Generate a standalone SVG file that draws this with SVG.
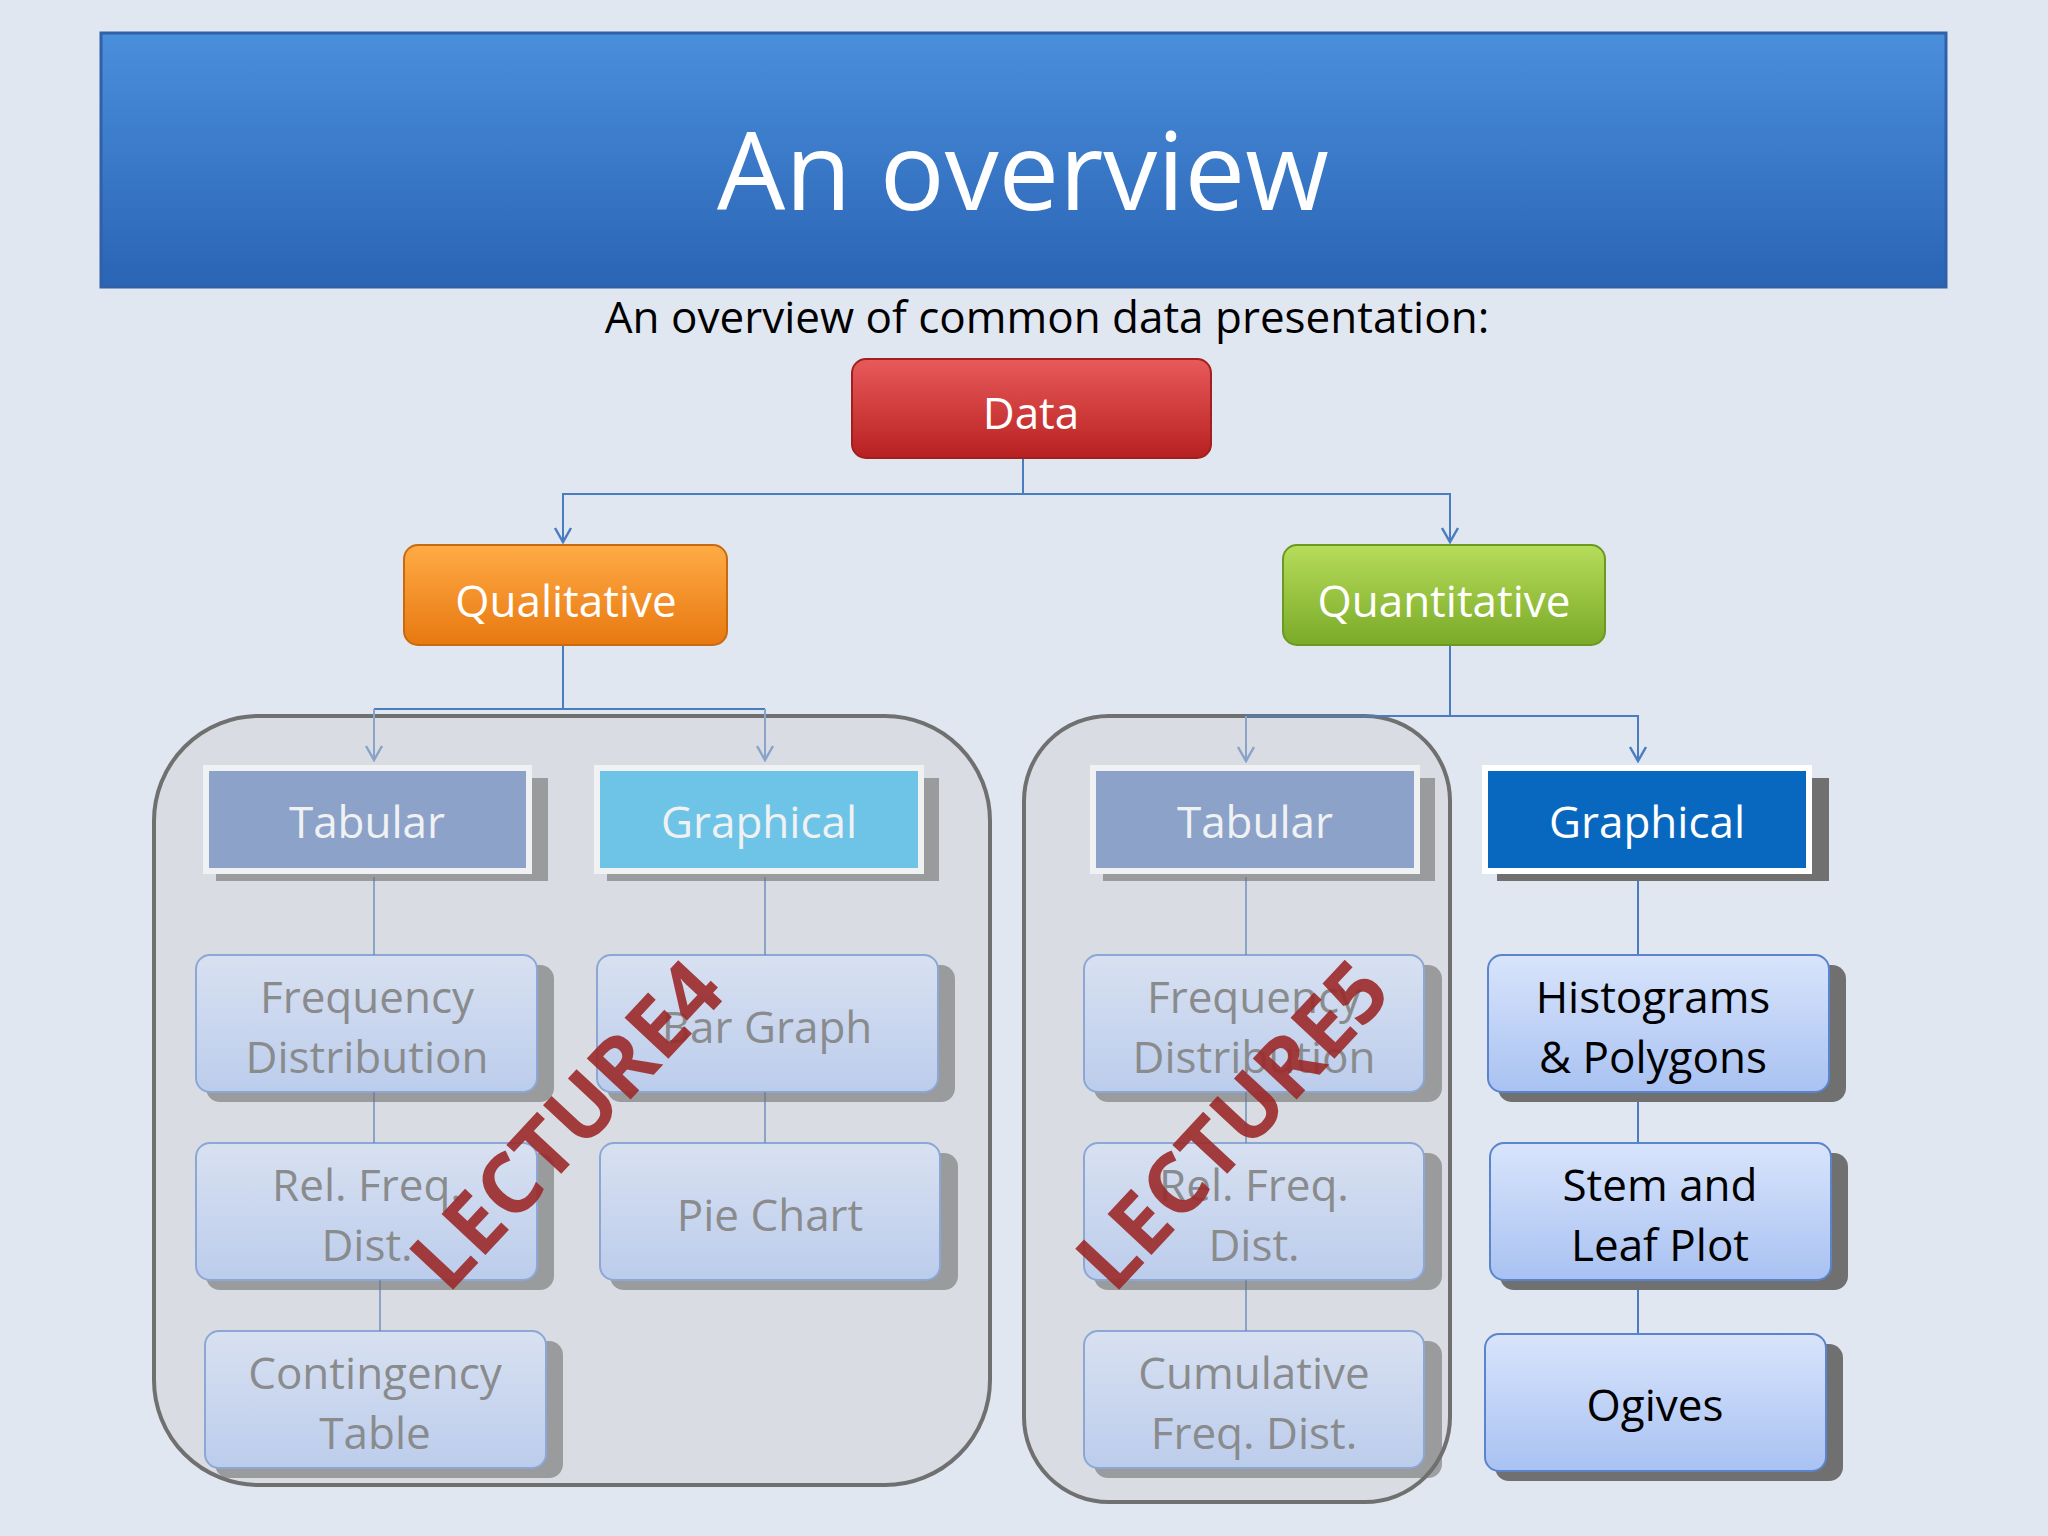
<svg xmlns="http://www.w3.org/2000/svg" width="2048" height="1536" viewBox="0 0 2048 1536">
<defs>
<linearGradient id="gT" x1="0" y1="0" x2="0" y2="1"><stop offset="0" stop-color="#4a8fdc"/><stop offset="1" stop-color="#2a64b4"/></linearGradient>
<linearGradient id="gR" x1="0" y1="0" x2="0" y2="1"><stop offset="0" stop-color="#e85a5a"/><stop offset="1" stop-color="#b82020"/></linearGradient>
<linearGradient id="gO" x1="0" y1="0" x2="0" y2="1"><stop offset="0" stop-color="#ffab45"/><stop offset="1" stop-color="#e87810"/></linearGradient>
<linearGradient id="gG" x1="0" y1="0" x2="0" y2="1"><stop offset="0" stop-color="#b6dc5a"/><stop offset="1" stop-color="#7aaa28"/></linearGradient>
<linearGradient id="gL" x1="0" y1="0" x2="0" y2="1"><stop offset="0" stop-color="#d8e4fb"/><stop offset="1" stop-color="#a9c2f2"/></linearGradient>
<marker id="ar" viewBox="0 0 20 20" refX="18" refY="10" markerWidth="20" markerHeight="20" markerUnits="userSpaceOnUse" orient="auto"><path d="M4,2 L18,10 L4,18" fill="none" stroke="#4a7cc0" stroke-width="2.5"/></marker>
<marker id="arf" viewBox="0 0 20 20" refX="18" refY="10" markerWidth="20" markerHeight="20" markerUnits="userSpaceOnUse" orient="auto"><path d="M4,2 L18,10 L4,18" fill="none" stroke="#8aa4c8" stroke-width="2.5"/></marker>
<style>
.t{font-family:"Open Sans","Noto Sans",sans-serif;text-anchor:middle}
.w{fill:#fff;font-size:44px}
.k{fill:#000;font-size:44px}
.g{fill:#555;font-size:44px}
.ln{stroke:#4a7cc0;stroke-width:2;fill:none}
.lnf{stroke:#8aa4c8;stroke-width:2;fill:none}
.sh{fill:#707070}
.lb{fill:url(#gL);stroke:#5a84cc;stroke-width:2}
.lec{font-family:"Open Sans","Noto Sans",sans-serif;font-weight:bold;font-size:84px;fill:#9c2a2a;opacity:0.9;text-anchor:middle}
</style>
</defs>
<rect width="2048" height="1536" fill="#e1e7f1"/>
<g id="title"><rect x="101" y="33" width="1845" height="254" fill="url(#gT)" stroke="#3060a8" stroke-width="3"/><text x="1023" y="210" class="t" fill="#fff" font-size="108">An overview</text></g>
<text x="1047" y="333" class="t k" font-size="44">An overview of common data presentation:</text>
<g id="panels">
<rect x="154" y="716" width="836" height="769" rx="105" fill="#d9dde3" stroke="#707070" stroke-width="4"/>
<rect x="1024" y="716" width="426" height="786" rx="85" fill="#d9dde3" stroke="#707070" stroke-width="4"/>
</g>
<g id="connectors">
<path class="ln" d="M1023,458 V494 H563 V542" marker-end="url(#ar)"/>
<path class="ln" d="M1023,494 H1450 V542" marker-end="url(#ar)"/>
<path class="ln" d="M563,645 V709 H374"/>
<path class="lnf" d="M374,709 V760" marker-end="url(#arf)"/>
<path class="ln" d="M563,709 H765"/>
<path class="lnf" d="M765,709 V760" marker-end="url(#arf)"/>
<path class="ln" d="M1450,645 V716 H1638 V761" marker-end="url(#ar)"/>
<path class="ln" d="M1450,716 H1246"/>
<path class="lnf" d="M1246,716 V761" marker-end="url(#arf)"/>
<path class="lnf" d="M374,877 V955 M374,1092 V1143 M380,1280 V1331 M765,877 V955 M765,1092 V1143 M1246,877 V955 M1246,1092 V1143 M1246,1280 V1331"/>
<path class="ln" d="M1638,871 V1334"/>
</g>
<g id="data"><rect x="852" y="359" width="359" height="99" rx="14" fill="url(#gR)" stroke="#a02020" stroke-width="2"/><text x="1031" y="429" class="t w">Data</text></g>
<g id="qual"><rect x="404" y="545" width="323" height="100" rx="14" fill="url(#gO)" stroke="#c86a10" stroke-width="2"/><text x="566" y="617" class="t w">Qualitative</text></g>
<g id="quant"><rect x="1283" y="545" width="322" height="100" rx="14" fill="url(#gG)" stroke="#6a9a20" stroke-width="2"/><text x="1444" y="617" class="t w">Quantitative</text></g>
<g id="left" opacity="0.6">
<g id="tabL"><rect x="216" y="778" width="332" height="103" class="sh"/><rect x="206" y="768" width="323" height="103" fill="#5a7cb8" stroke="#fff" stroke-width="6"/><text x="367" y="838" class="t w">Tabular</text></g>
<g id="graL"><rect x="607" y="778" width="332" height="103" class="sh"/><rect x="597" y="768" width="324" height="103" fill="#28b4e8" stroke="#fff" stroke-width="6"/><text x="759" y="838" class="t w">Graphical</text></g>
<g id="fdL"><rect x="206" y="965" width="348" height="137" rx="14" class="sh"/><rect x="196" y="955" width="341" height="137" rx="14" class="lb"/><text x="367" y="1013" class="t g">Frequency</text><text x="367" y="1073" class="t g">Distribution</text></g>
<g id="rfL"><rect x="206" y="1153" width="348" height="137" rx="14" class="sh"/><rect x="196" y="1143" width="341" height="137" rx="14" class="lb"/><text x="367" y="1201" class="t g">Rel. Freq.</text><text x="367" y="1261" class="t g">Dist.</text></g>
<g id="ctL"><rect x="215" y="1341" width="348" height="137" rx="14" class="sh"/><rect x="205" y="1331" width="341" height="137" rx="14" class="lb"/><text x="375" y="1389" class="t g">Contingency</text><text x="375" y="1449" class="t g">Table</text></g>
<g id="bgL"><rect x="607" y="965" width="348" height="137" rx="14" class="sh"/><rect x="597" y="955" width="341" height="137" rx="14" class="lb"/><text x="767" y="1043" class="t g">Bar Graph</text></g>
<g id="pcL"><rect x="610" y="1153" width="348" height="137" rx="14" class="sh"/><rect x="600" y="1143" width="340" height="137" rx="14" class="lb"/><text x="770" y="1231" class="t g">Pie Chart</text></g>
</g>
<g id="rightT" opacity="0.6">
<g id="tabR"><rect x="1103" y="778" width="332" height="103" class="sh"/><rect x="1093" y="768" width="324" height="103" fill="#5a7cb8" stroke="#fff" stroke-width="6"/><text x="1255" y="838" class="t w">Tabular</text></g>
<g id="fdR"><rect x="1094" y="965" width="348" height="137" rx="14" class="sh"/><rect x="1084" y="955" width="340" height="137" rx="14" class="lb"/><text x="1254" y="1013" class="t g">Frequency</text><text x="1254" y="1073" class="t g">Distribution</text></g>
<g id="rfR"><rect x="1094" y="1153" width="348" height="137" rx="14" class="sh"/><rect x="1084" y="1143" width="340" height="137" rx="14" class="lb"/><text x="1254" y="1201" class="t g">Rel. Freq.</text><text x="1254" y="1261" class="t g">Dist.</text></g>
<g id="cfR"><rect x="1094" y="1341" width="348" height="137" rx="14" class="sh"/><rect x="1084" y="1331" width="340" height="137" rx="14" class="lb"/><text x="1254" y="1389" class="t g">Cumulative</text><text x="1254" y="1449" class="t g">Freq. Dist.</text></g>
</g>
<g id="graR"><rect x="1497" y="778" width="332" height="103" class="sh"/><rect x="1485" y="768" width="324" height="103" fill="#0868c0" stroke="#fff" stroke-width="6"/><text x="1647" y="838" class="t w">Graphical</text></g>
<g id="hist"><rect x="1498" y="965" width="348" height="137" rx="14" class="sh"/><rect x="1488" y="955" width="341" height="137" rx="14" class="lb"/><text x="1653" y="1013" class="t k">Histograms</text><text x="1653" y="1073" class="t k">&amp; Polygons</text></g>
<g id="stem"><rect x="1500" y="1153" width="348" height="137" rx="14" class="sh"/><rect x="1490" y="1143" width="341" height="137" rx="14" class="lb"/><text x="1660" y="1201" class="t k">Stem and</text><text x="1660" y="1261" class="t k">Leaf Plot</text></g>
<g id="ogives"><rect x="1495" y="1344" width="348" height="137" rx="14" class="sh"/><rect x="1485" y="1334" width="341" height="137" rx="14" class="lb"/><text x="1655" y="1421" class="t k">Ogives</text></g>
<text class="lec" transform="translate(588,1145) rotate(-47)">LECTURE4</text>
<text class="lec" transform="translate(1254,1145) rotate(-47)">LECTURE5</text>
</svg>
